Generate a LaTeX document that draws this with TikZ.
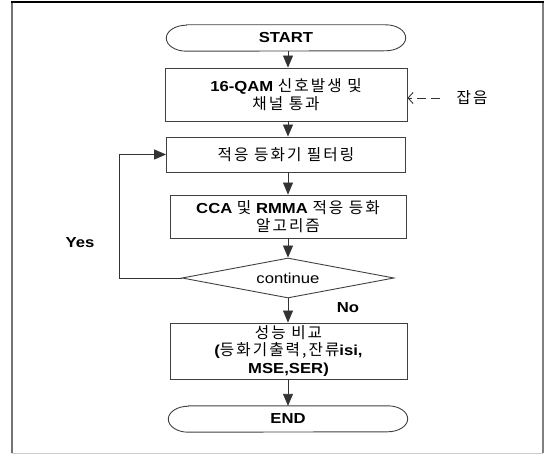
\documentclass[tikz,border=0pt]{standalone}
\usepackage{fontspec}
\setmainfont{Liberation Sans}[FakeStretch=1.15]
\newfontfamily\korfont{Noto Sans CJK KR}[LetterSpace=13,Scale=1.08]
\newcommand\kor[1]{{\korfont\mdseries #1}}
\usetikzlibrary{shapes.geometric,arrows.meta,calc}
\tikzset{
  box/.style={draw=black!75, line width=0.9pt, minimum width=239pt, align=center, inner sep=0pt,
    font=\fontsize{14.5}{17.5}\selectfont\bfseries},
  termtext/.style={minimum width=239pt, minimum height=26pt, inner sep=0pt,
    font=\fontsize{14.5}{16}\selectfont\bfseries},
  termline/.style={draw=black!75, line width=0.9pt},
  dia/.style={draw=black!75, line width=0.9pt, diamond, aspect=5.3, inner sep=0pt,
    minimum width=212pt, minimum height=40pt, font=\fontsize{14.5}{16}\selectfont},
  arr/.style={draw=black!80, line width=0.9pt, -{Triangle[length=12pt,width=10pt]}},
  lbl/.style={font=\fontsize{14.5}{16}\selectfont\bfseries, inner sep=0pt},
}
\begin{document}
\begin{tikzpicture}[x=1pt,y=-1pt]
\useasboundingbox (0,0) rectangle (549,454);
% frame
\draw[black!55, line width=1.5pt] (12,2) -- (12,453);
\draw[black!50, line width=1.5pt] (543,2) -- (543,453);
\draw[black!20, line width=1pt] (12,453) -- (543,453);
\draw[black, line width=2pt] (11,2) -- (544,2);
% terminators
\node[termtext] (st) at (286,38) {START};
\draw[termline] ($(st.north west)+(20,0)$) -- ($(st.north east)+(-20,0)$)
  arc[start angle=90,end angle=-90,x radius=20pt,y radius=13pt]
  -- ($(st.south west)+(20,0)$)
  arc[start angle=270,end angle=90,x radius=20pt,y radius=13pt] -- cycle;
\node[termtext] (en) at (288,419) {END};
\draw[termline] ($(en.north west)+(20,0)$) -- ($(en.north east)+(-20,0)$)
  arc[start angle=90,end angle=-90,x radius=20pt,y radius=13pt]
  -- ($(en.south west)+(20,0)$)
  arc[start angle=270,end angle=90,x radius=20pt,y radius=13pt] -- cycle;
% boxes
\node[box, minimum width=242pt, minimum height=53pt] (b1) at (286,94.5) {16-QAM \kor{신호발생 및}\\\kor{채널 통과}};
\node[box, minimum height=35pt] (b2) at (286,154.5) {\kor{적응 등화기 필터링}};
\node[box, minimum width=236pt, minimum height=43pt] (b3) at (288,216.5) {CCA \kor{및} RMMA \kor{적응 등화}\\\kor{알고리즘}};
\node[dia] (d) at (288,278) {continue};
\node[box, minimum width=237pt, minimum height=56pt] (b4) at (288.5,351) {\kor{성능 비교}\\(\kor{등화기출력,잔류}isi,\\MSE,SER)};
% noise
\node[font=\fontsize{14.5}{16}\selectfont, inner sep=0pt] (noise) at (472,98) {\kor{잡음}};
\draw[black!80, line width=0.9pt, dash pattern=on 9pt off 5pt, -{Straight Barb[length=5pt,width=11pt]}, shorten <=16pt]
  (noise.west) -- (b1.east |- noise.west);
% connectors
\draw[arr] (d.north |- st.south) -- (d.north |- b1.north);
\draw[arr] (d.north |- b1.south) -- (d.north |- b2.north);
\draw[arr] (d.north |- b2.south) -- (d.north |- b3.north);
\draw[arr] (d.north |- b3.south) -- (d.north);
\draw[arr] (d.south) -- (d.south |- b4.north);
\draw[arr] (d.south |- b4.south) -- (d.south |- en.north);
\coordinate (lp) at (119,278);
\draw[arr] (d.west) -- (lp) |- (b2.west);
% labels
\node[lbl] (yes) at (80,243) {Yes};
\node[lbl] (no) at (348,308) {No};
\end{tikzpicture}
\end{document}
